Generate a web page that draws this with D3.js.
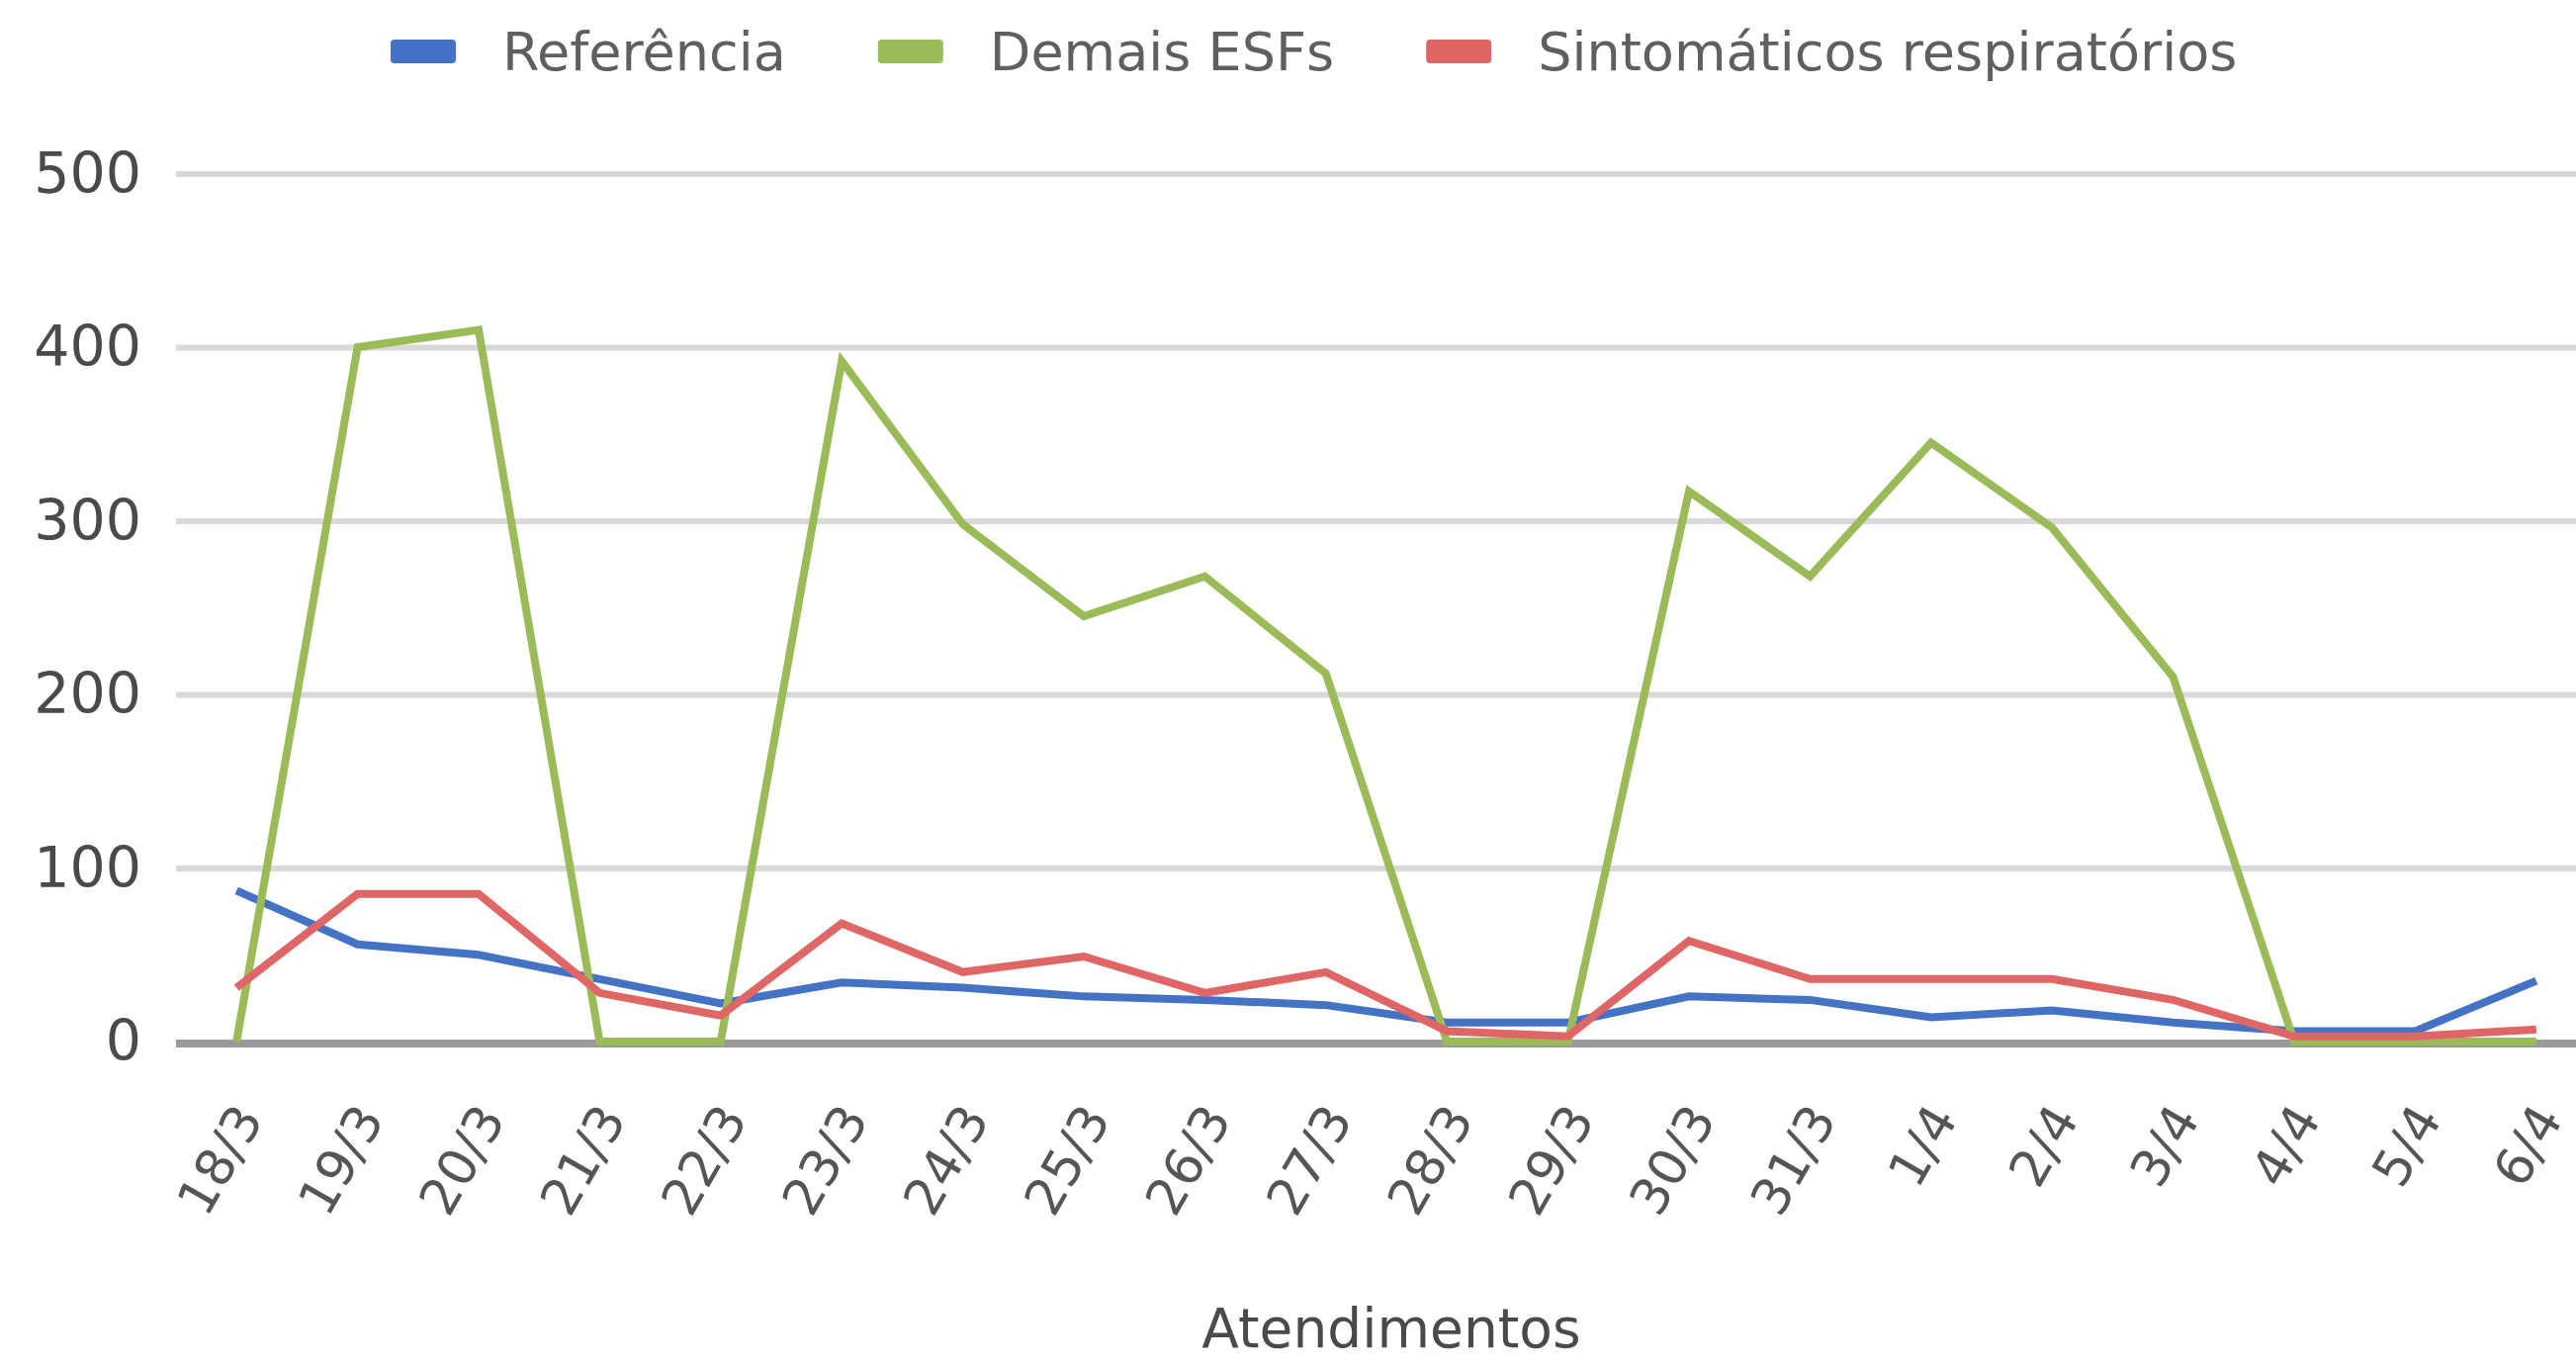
<!DOCTYPE html>
<html lang="pt-BR">
<head>
<meta charset="utf-8">
<title>Atendimentos</title>
<script src="https://cdn.jsdelivr.net/npm/d3@7/dist/d3.min.js"></script>
<style>
  html, body { margin: 0; padding: 0; background: #ffffff; }
  svg { display: block; }
  text { font-family: "DejaVu Sans", Verdana, sans-serif; }
</style>
</head>
<body>
<svg id="chart" width="2605" height="1381"></svg>
<script>
// Daily attendance counts, 18/3 to 6/4
const dias = ["18/3","19/3","20/3","21/3","22/3","23/3","24/3","25/3","26/3","27/3",
              "28/3","29/3","30/3","31/3","1/4","2/4","3/4","4/4","5/4","6/4"];

const referencia    = [87, 56, 50, 36, 22, 34, 31, 26, 24, 21, 11, 11, 26, 24, 14, 18, 11, 6, 6, 35];
const demaisESFs    = [0, 400, 410, 0, 0, 392, 298, 245, 268, 212, 0, 0, 317, 268, 345, 296, 210, 0, 0, 0];
const sintomaticos  = [31, 85, 85, 28, 15, 68, 40, 49, 28, 40, 6, 3, 58, 36, 36, 36, 24, 3, 3, 7];

const yTicks = [0, 100, 200, 300, 400, 500];

const series = [
  { nome: "Referência", valores: referencia, cor: "#4472C4" },
  { nome: "Demais ESFs", valores: demaisESFs, cor: "#9BBB59" },
  { nome: "Sintomáticos respiratórios", valores: sintomaticos, cor: "#E06666" }
];

const svg = d3.select("#chart");
const W = 2605;

const plot = { left: 178, right: 2626, top: 175.5, bottom: 1053 };

const x = d3.scaleBand().domain(dias).range([plot.left, plot.right]).padding(0);
const y = d3.scaleLinear().domain([0, 500]).range([plot.bottom, plot.top]);
const cx = d => x(d) + x.bandwidth() / 2;

// horizontal gridlines
const grid = svg.append("g")
  .call(d3.axisLeft(y).tickValues(yTicks.filter(v => v > 0)).tickSize(-(W - plot.left)).tickFormat(""))
  .attr("transform", `translate(${plot.left},0)`);
grid.select(".domain").remove();
grid.selectAll(".tick line").attr("stroke", "#d9d9d9").attr("stroke-width", 6);

// y tick labels
const yAxis = svg.append("g")
  .attr("transform", `translate(${plot.left},0)`)
  .call(d3.axisLeft(y).tickValues(yTicks).tickSize(0).tickPadding(35).tickFormat(d3.format("d")));
yAxis.select(".domain").remove();
yAxis.selectAll(".tick text")
  .attr("font-family", "DejaVu Sans, Verdana, sans-serif")
  .attr("font-size", 57)
  .attr("fill", "#4a4a4a")
  .attr("dy", "0.33em");

// baseline
svg.append("line")
  .attr("x1", plot.left).attr("x2", W)
  .attr("y1", y(0) + 2).attr("y2", y(0) + 2)
  .attr("stroke", "#9a9a9a").attr("stroke-width", 8);

// x tick labels, rotated
const xAxis = svg.append("g")
  .attr("transform", `translate(0,${plot.bottom})`)
  .call(d3.axisBottom(x).tickSize(0).tickFormat(d => d));
xAxis.select(".domain").remove();
xAxis.selectAll(".tick text")
  .attr("font-family", "DejaVu Sans, Verdana, sans-serif")
  .attr("font-size", 52)
  .attr("fill", "#555")
  .attr("text-anchor", "end")
  .attr("y", 0).attr("dy", 0)
  .attr("transform", "translate(28,78) rotate(-60)");

// series lines
const line = d3.line()
  .x((v, i) => cx(dias[i]))
  .y(v => y(v));

svg.append("g").selectAll("path")
  .data(series)
  .join("path")
  .attr("d", s => line(s.valores))
  .attr("fill", "none")
  .attr("stroke", s => s.cor)
  .attr("stroke-width", 8)
  .attr("stroke-linejoin", "miter");

// legend
const legend = svg.append("g").attr("transform", "translate(395,52)");
let lx = 0;
series.forEach(s => {
  const g = legend.append("g").attr("transform", `translate(${lx},0)`);
  g.append("rect")
    .attr("x", 0).attr("y", -12).attr("width", 66).attr("height", 24)
    .attr("rx", 4).attr("fill", s.cor);
  const t = g.append("text")
    .attr("x", 113).attr("y", 0).attr("dy", "0.36em")
    .attr("font-size", 54).attr("fill", "#5f5f5f")
    .text(s.nome);
  lx += 113 + t.node().getComputedTextLength() + 93;
});

// axis title
svg.append("text")
  .attr("x", (plot.left + plot.right) / 2 + 5)
  .attr("y", 1362)
  .attr("text-anchor", "middle")
  .attr("font-size", 55)
  .attr("fill", "#4a4a4a")
  .text("Atendimentos");
</script>
</body>
</html>
